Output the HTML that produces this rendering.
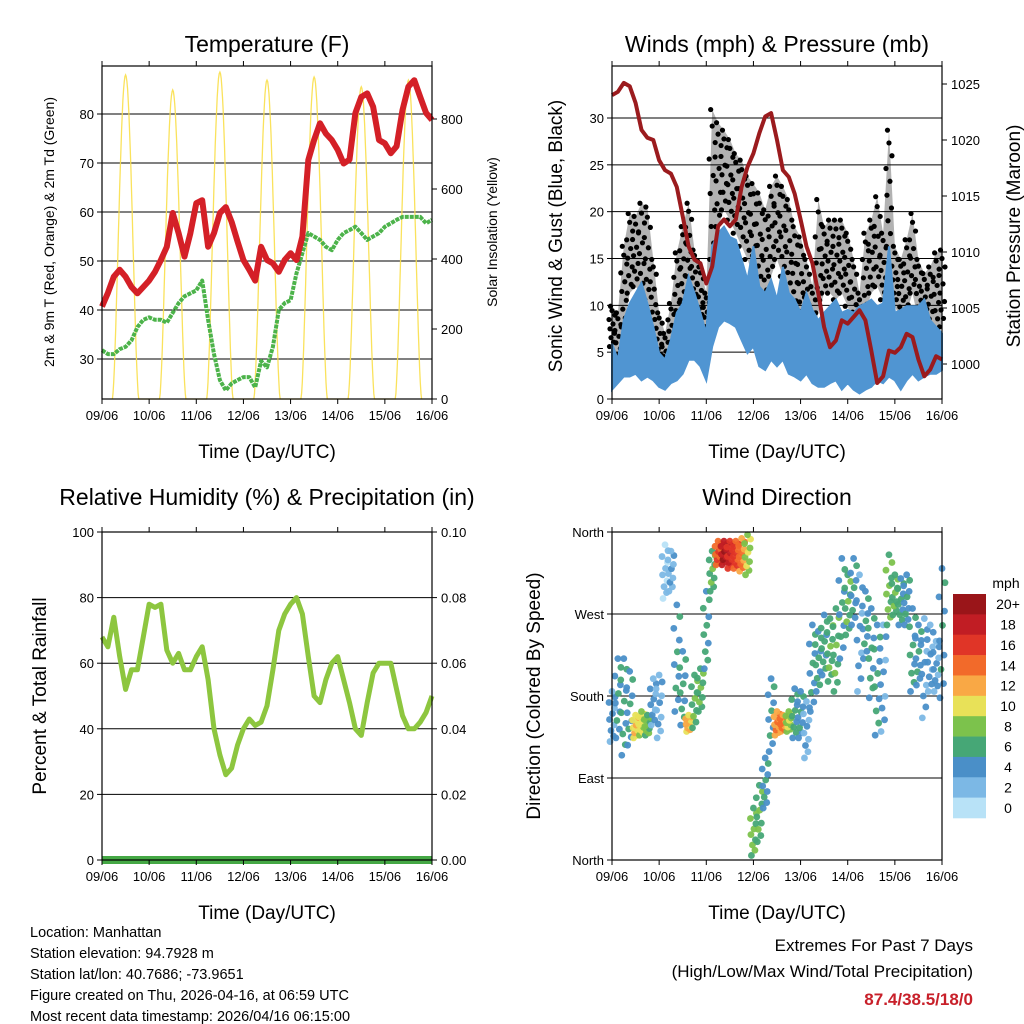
<!DOCTYPE html>
<html><head><meta charset="utf-8"><style>
html,body{margin:0;padding:0;background:#fff;}
svg{display:block;font-family:"Liberation Sans",sans-serif;}
</style></head><body>
<svg id="chart" width="1024" height="1024" viewBox="0 0 1024 1024">
<rect x="0" y="0" width="1024" height="1024" fill="#fff"/>
</svg>
<script>
// ---------- DATA (3-hourly, 57 samples from 09/06 00Z to 16/06 00Z) ----------
const dayLabels = ["09/06","10/06","11/06","12/06","13/06","14/06","15/06","16/06"];
const tempF = [40.7,43.5,46.8,48.2,46.8,44.7,43.4,44.7, 46,47.8,50.2,52.9,59.8,55.7,50.9,55.7, 61.8,62.4,52.9,55.7,59.8,61,58,54, 50.2,48.2,46,52.9,50.2,49.5,47.8,50.2, 51.6,50.2,55,70.6,74.7,78.1,76,74.7, 72.7,69.9,70.7,80.2,83.5,84.2,81.5,74.7, 74,72,73.4,80.8,85.6,86.9,83.5,80.2, 78.8];
const dewF = [31.8,31,31,32,32.5,33.8,36.5,38, 38.5,38,38,37.4,39.4,41.4,42.8,43.4, 44,46,38,31,25.7,23.6,25,25.7, 26.3,26.3,24.2,29.6,28.3,32.5,40,41.4, 42,47.5,51.6,55.7,55,54.3,52.9,52.2, 54.3,55.7,56.3,57,55.7,54.3,55,55.7, 57,57.7,58.4,59,59,59,59,57.7, 58.4];
const solarPeak = [926,883,934,911,920,892,911];
const tempTicks = [30,40,50,60,70,80];
const solarTicks = [0,200,400,600,800];
const pressureMb = [1024.0,1024.3,1025.1,1024.8,1023.3,1020.9,1020.2,1020, 1018.2,1017.3,1017,1015.8,1013.2,1010.5,1009.3,1009, 1007.2,1008.7,1012.3,1012.9,1012.3,1012.9,1015.8,1017.6, 1018.8,1020.6,1022.1,1022.4,1020,1017.3,1016.7,1015.2, 1012.9,1010.5,1009,1006.3,1003.3,1001.5,1002.1,1003.9, 1003.6,1004.2,1004.8,1003.9,1001.2,998.3,998.9,1001.2, 1001,1001.5,1002.7,1002.4,1000.4,998.9,999.5,1000.7, 1000.4];
const windHi = [5.9,4.2,8.4,10.2,11.3,12.4,10.2,7.7, 4.9,4.2,6.3,9.2,10.2,13.1,11.3,9.2, 7.0,16.3,17.7,18.4,17.3,17.0,14.9,12.7, 16.3,12.0,11.3,12.7,10.6,14.1,11.3,10.6, 9.2,11.3,9.5,8.4,9.2,9.9,10.6,9.2, 9.5,9.2,9.9,10.2,10.6,9.9,10.2,16.3, 9.2,9.5,9.9,9.9,9.9,10.6,8.4,7.7, 7.0];
const windLo = [1.0,1.7,2.4,2.4,2.7,2.0,2.4,2.0, 1.3,1.0,1.7,2.0,2.7,4.2,4.2,3.5, 2.0,5.6,7.7,8.4,8.1,7.7,6.3,4.9, 5.6,3.5,3.1,4.2,3.5,4.2,2.7,2.4, 2.0,2.7,1.7,1.3,1.3,1.7,2.0,1.0, 1.7,1.0,0.6,1.0,1.3,2.0,1.7,2.4, 2.0,1.0,2.0,2.7,2.0,2.4,2.7,2.7, 3.1];
const gustHi = [9.9,9.2,16.3,19.8,19.5,20.9,20.5,14.9, 9.2,7.0,10.2,15.6,18.4,20.9,15.9,14.1, 11.3,30.9,29.5,28.7,27.7,26.2,25.5,23.8, 23.0,22.0,20.2,22.7,23.8,22.7,21.3,18.4, 17.3,14.9,12.0,21.3,18.4,19.1,19.1,19.1, 17.7,14.9,11.3,17.7,19.1,21.6,17.7,28.7, 16.3,14.9,17.0,19.8,14.9,13.4,14.1,15.6, 15.9];
const gustLo = [5.6,3.5,7.7,11.3,12.0,11.3,10.6,7.7, 4.2,2.7,4.9,7.7,10.6,13.1,10.6,8.4, 6.7,14.9,18.4,20.2,19.1,17.7,16.3,14.9, 13.1,12.0,10.6,13.1,14.9,13.1,11.3,9.5, 8.4,7.7,5.6,9.2,11.3,11.3,10.6,11.3, 9.9,7.7,4.9,9.2,11.3,12.0,10.6,16.3, 9.9,8.4,9.2,11.3,8.4,7.7,7.0,7.7, 7.7];
const windTicks = [0,5,10,15,20,25,30];
const pressureTicks = [1000,1005,1010,1015,1020,1025];
const rhPct = [68,65,74,62,52,58,58,68, 78,77,78,64,60,63,58,58, 62,65,55,40,32,26,28,35, 40,43,41,42,47,58,70,75, 78,80,75,62,50,48,55,60, 62,55,48,40,38,48,57,60, 60,60,52,44,40,40,42,45, 50];
const precipIn = [0,0,0,0,0,0,0,0, 0,0,0,0,0,0,0,0, 0,0,0,0,0,0,0,0, 0,0,0,0,0,0,0,0, 0,0,0,0,0,0,0,0, 0,0,0,0,0,0,0,0, 0,0,0,0,0,0,0,0, 0];
const rhTicks = [0,20,40,60,80,100];
const precipTicks = ["0.00","0.02","0.04","0.06","0.08","0.10"];
const dirHi = [185,221,221,207,159,163,159,199, 203,346,339,280,229,159,203,210, 295,339,350,350,350,350,353,357, 57,82,112,199,163,159,163,188, 185,174,258,251,269,265,276,331, 313,331,313,295,276,258,258,335, 313,309,313,276,258,265,258,240, 320];
const dirLo = [130,134,115,126,134,137,137,148, 134,287,295,163,148,141,145,163, 210,295,324,324,320,320,317,313, 5,20,57,119,137,141,141,134, 134,112,163,185,203,196,185,221, 247,258,185,221,178,137,141,258, 269,258,258,185,192,156,185,185, 178];
const dirSpeed = [4,5,6,5,11,10,8,4, 3,2,3,5,6,12,7,7, 6,7,15,19,17,16,14,9, 8,7,5,5,13,14,9,6, 5,3,5,6,6,7,7,5, 7,5,4,5,6,6,4,8, 7,6,5,6,5,4,4,4, 5];
const dirTicks = ["North","East","South","West","North"];
const speedBins = ["0","2","4","6","8","10","12","14","16","18","20+"];
const speedColors = ["#b8e2f7","#7cb8e5","#4a8fc8","#46a776","#7cc24c","#e8e158","#f9a845","#f26a2a","#e03527","#c11d24","#9a1519"];

// ---------- HELPERS ----------
const svg = document.getElementById('chart');
const NS = 'http://www.w3.org/2000/svg';
function mk(tag, attrs, parent){ const e=document.createElementNS(NS,tag); for(const k in attrs) e.setAttribute(k,attrs[k]); (parent||svg).appendChild(e); return e; }
function txt(s, attrs, parent){ const e=mk('text',attrs,parent); e.textContent=s; return e; }
const N = tempF.length;
function tDay(i){ return i/8; }
function makeX(x0,x1){ return d => x0 + (x1-x0)*d/7; }
function makeY(v0,y0,v1,y1){ return v => y0 + (y1-y0)*(v-v0)/(v1-v0); }

function frame(g, x0,y0,x1,y1, xs){
  const r=mk('rect',{x:x0,y:y0,width:x1-x0,height:y1-y0,fill:'none',stroke:'#000','stroke-width':1.2},g);
  
  
  dayLabels.forEach((lab,d)=>{
    const x=xs(d);
    mk('line',{x1:x,y1:y0,x2:x,y2:y0-5,stroke:'#000'},g);
    mk('line',{x1:x,y1:y1,x2:x,y2:y1+5,stroke:'#000'},g);
    const t=txt(lab,{x:x,y:y1+21,'font-size':13,'text-anchor':'middle'},g);
    
    
  });
  const xt=txt('Time (Day/UTC)',{x:(x0+x1)/2,y:y1+59,'font-size':19,'text-anchor':'middle'},g);
  
  
}
function grid(g,x0,x1,y){ mk('line',{x1:x0,y1:y,x2:x1,y2:y,stroke:'#000','stroke-width':1},g); }
function yTickL(g,x0,y,lab,fs){ mk('line',{x1:x0,y1:y,x2:x0-5,y2:y,stroke:'#000'},g); const t=txt(lab,{x:x0-8,y:y+5,'font-size':fs||13,'text-anchor':'end'},g);   }
function yTickR(g,x1,y,lab){ mk('line',{x1:x1,y1:y,x2:x1+5,y2:y,stroke:'#000'},g); const t=txt(lab,{x:x1+9,y:y+5,'font-size':13,'text-anchor':'start'},g);   }
function vtitle(g,s,x,y,fs,name){ const t=txt(s,{x:x,y:y,'font-size':fs,'text-anchor':'middle',transform:`rotate(-90 ${x} ${y})`},g);   }
function title(g,s,x,y,name){ const t=txt(s,{x:x,y:y,'font-size':23,'text-anchor':'middle'},g);   }
function path(pts){ return pts.map((p,i)=>(i?'L':'M')+p[0].toFixed(1)+','+p[1].toFixed(1)).join(''); }

// ---------- PANEL 1: TEMPERATURE ----------
(function(){
  const g=mk('g',{});
  
  
  const X=makeX(102,432), Y=makeY(30,359,80,114), YS=makeY(0,399,800,119);
  title(g,'Temperature (F)',267,52,'temperature-title');
  tempTicks.forEach(v=>{ grid(g,102,432,Y(v)); yTickL(g,102,Y(v),String(v)); });
  solarTicks.forEach(v=>yTickR(g,432,YS(v),String(v)));
  const sp=[];
  solarPeak.forEach((pk,d)=>{
    for(let k=0;k<=40;k++){ const f=k/40; const dd=d+0.22+0.56*f; const s=Math.sin(Math.PI*f); sp.push([X(dd),YS(pk*Math.pow(s,1.6))]); }
  });
  const sl=mk('path',{d:path(sp),fill:'none',stroke:'#f9df4a','stroke-width':1.3,opacity:0.9},g);
  
  
  const dl=mk('path',{d:path(dewF.map((v,i)=>[X(tDay(i)),Y(v)])),fill:'none',stroke:'#4cb34a','stroke-width':4,'stroke-dasharray':'4 1','stroke-linejoin':'round'},g);
  
  
  const tl=mk('path',{d:path(tempF.map((v,i)=>[X(tDay(i)),Y(v)])),fill:'none',stroke:'#d42027','stroke-width':6,'stroke-linejoin':'round'},g);
  
  
  frame(g,102,66,432,399,X);
  vtitle(g,'2m & 9m T (Red, Orange) & 2m Td (Green)',54,232,14,'temperature-y-axis-title');
  vtitle(g,'Solar Insolation (Yellow)',497,232,14,'solar-y-axis-title');
})();

// ---------- PANEL 2: WINDS & PRESSURE ----------
(function(){
  const g=mk('g',{});
  
  
  const X=makeX(612,942), Y=makeY(0,399,30,118), YP=makeY(1000,364,1025,84);
  title(g,'Winds (mph) & Pressure (mb)',777,52,'winds-title');
  windTicks.forEach(v=>{ grid(g,612,942,Y(v)); yTickL(g,612,Y(v),String(v)); });
  pressureTicks.forEach(v=>yTickR(g,942,YP(v),String(v)));
  const gb=[]; gustHi.forEach((v,i)=>gb.push([X(tDay(i)),Y(v)])); for(let i=N-1;i>=0;i--) gb.push([X(tDay(i)),Y(gustLo[i])]);
  const gbp=mk('path',{d:path(gb)+'Z',fill:'#000',opacity:0.3},g);
  
  
  const fr=[0,0.11,0.22,0.33,0.44,0.56,0.67,0.78,0.89,1], ox=[-2.5,1.5,-1,2.5,-2,1,-3,3,0,-1.5];
  gustHi.forEach((hi,i)=>{
    const lo=gustLo[i];
    fr.forEach((f,k)=>{
      const c=mk('circle',{cx:X(tDay(i))+ox[k],cy:Y(lo+(hi-lo)*f),r:2.6,fill:'#000'},g);
      
      
    });
  });
  const wb=[]; windHi.forEach((v,i)=>wb.push([X(tDay(i)),Y(v)])); for(let i=N-1;i>=0;i--) wb.push([X(tDay(i)),Y(windLo[i])]);
  const wbp=mk('path',{d:path(wb)+'Z',fill:'#5095d2',stroke:'#5095d2','stroke-width':2},g);
  
  
  const pl=mk('path',{d:path(pressureMb.map((v,i)=>[X(tDay(i)),YP(v)])),fill:'none',stroke:'#9b1b1e','stroke-width':4,'stroke-linejoin':'round'},g);
  
  
  frame(g,612,66,942,399,X);
  vtitle(g,'Sonic Wind & Gust (Blue, Black)',562,236,19,'wind-y-axis-title');
  vtitle(g,'Station Pressure (Maroon)',1020,236,19,'pressure-y-axis-title');
})();

// ---------- PANEL 3: RH & PRECIP ----------
(function(){
  const g=mk('g',{});
  
  
  const X=makeX(102,432), Y=makeY(0,860,100,532), YR=makeY(0,860,0.1,532);
  title(g,'Relative Humidity (%) & Precipitation (in)',267,505,'humidity-title');
  rhTicks.forEach(v=>{ grid(g,102,432,Y(v)); yTickL(g,102,Y(v),String(v)); });
  precipTicks.forEach(v=>yTickR(g,432,YR(parseFloat(v)),v));
  const rl=mk('path',{d:path(rhPct.map((v,i)=>[X(tDay(i)),Y(v)])),fill:'none',stroke:'#8dc63f','stroke-width':5,'stroke-linejoin':'round'},g);
  
  
  const pr=mk('path',{d:path(precipIn.map((v,i)=>[X(tDay(i)),YR(v)])),fill:'none',stroke:'#45a845','stroke-width':8},g);
  
  
  frame(g,102,532,432,860,X);
  vtitle(g,'Percent & Total Rainfall',46,696,19,'humidity-y-axis-title');
})();

// ---------- PANEL 4: WIND DIRECTION ----------
(function(){
  const g=mk('g',{});
  
  
  const X=makeX(612,942), Y=makeY(0,860,360,532);
  title(g,'Wind Direction',777,505,'wind-direction-title');
  dirTicks.forEach((lab,k)=>{ const y=Y(k*90); grid(g,612,942,y); yTickL(g,612,y,lab,13); });
  function binColor(s){ let b=Math.floor(s/2); if(b>10)b=10; if(b<0)b=0; return speedColors[b]; }
  const fr=[0,0.11,0.22,0.33,0.44,0.56,0.67,0.78,0.89,1], ox=[-2,1.5,-1,2,-2.5,0.5,2.5,-3,3,0];
  dirHi.forEach((hi,i)=>{
    const lo=dirLo[i];
    fr.forEach((f,k)=>{
      const c=mk('circle',{cx:X(tDay(i))+ox[k],cy:Y(lo+(hi-lo)*f),r:3.4,fill:binColor(dirSpeed[i]+((k%3)-1)),opacity:0.95},g);
      
      
    });
  });
  frame(g,612,532,942,860,X);
  vtitle(g,'Direction (Colored By Speed)',540,696,19,'direction-y-axis-title');
  const cb=mk('g',{});
  
  
  const ml=txt('mph',{x:1006,y:588,'font-size':14,'text-anchor':'middle'},cb);
  
  
  const bh=224/11;
  for(let k=0;k<speedBins.length;k++){
    const j=speedBins.length-1-k;
    const r=mk('rect',{x:953,y:594+k*bh,width:33,height:bh+0.3,fill:speedColors[j]},cb);
    
    
    const t=txt(speedBins[j],{x:1008,y:594+k*bh+bh/2+5,'font-size':14,'text-anchor':'middle'},cb);
    
    
  }
})();

// ---------- FOOTER ----------
(function(){
  const g=mk('g',{});
  
  
  const lines=["Location: Manhattan","Station elevation: 94.7928 m","Station lat/lon: 40.7686; -73.9651","Figure created on Thu, 2026-04-16, at 06:59 UTC","Most recent data timestamp: 2026/04/16 06:15:00"];
  lines.forEach((s,k)=>{ const t=txt(s,{x:30,y:937+k*21,'font-size':14.5},g);   });
  const e=mk('g',{});
  
  
  const a=txt('Extremes For Past 7 Days',{x:973,y:951,'font-size':17,'text-anchor':'end'},e);
   
  const b=txt('(High/Low/Max Wind/Total Precipitation)',{x:973,y:977,'font-size':17,'text-anchor':'end'},e);
   
  const c=txt('87.4/38.5/18/0',{x:973,y:1005,'font-size':17,'font-weight':'bold',fill:'#c8202a','text-anchor':'end'},e);
   
})();
</script>
</body></html>
